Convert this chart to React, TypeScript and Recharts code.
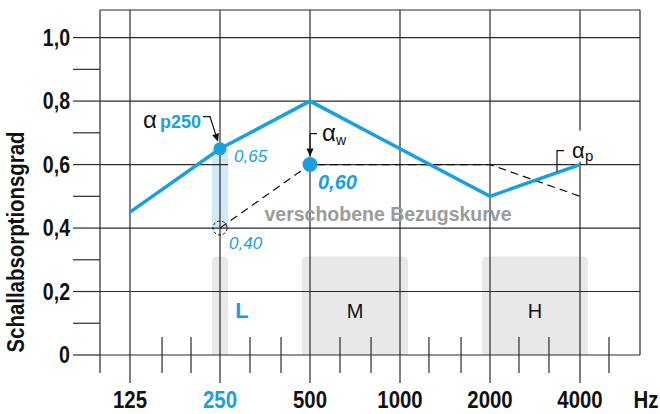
import React from 'react';
import { ComposedChart, Line, XAxis, YAxis, ReferenceLine, ReferenceArea, ReferenceDot } from 'recharts';

// octave bands (labelled) and the third-octave ticks between them
const bands = [125, 250, 500, 1000, 2000, 4000];
const bandLabels = ['125', '250', '500', '1000', '2000', '4000'];
const thirdOctaves = [160, 200, 315, 400, 630, 800, 1250, 1600, 2500, 3150, 5000];

// practical absorption coefficient αp per octave band
const measured = [0.45, 0.65, 0.8, 0.65, 0.5, 0.6];

// shifted reference curve
const refFreqs = [250, 500, 1000, 2000, 4000];
const shiftedRef = [0.4, 0.6, 0.6, 0.6, 0.5];

const yMajor = [0, 0.2, 0.4, 0.6, 0.8, 1.0];
const yTicks = [0, 0.1, 0.2, 0.3, 0.4, 0.5, 0.6, 0.7, 0.8, 0.9, 1.0];

// L / M / H ranges
const rangeNames = ['L', 'M', 'H'];
const rangeLo = [235, 470, 1880];
const rangeHi = [266, 1064, 4250];
const rangeLabelFreq = [250, 707, 2828];
const rangeTop = 0.31;

const alphaW = 0.6;
const p250 = 0.65;
const shifted250 = 0.4;

const xMin = 125 / Math.cbrt(2);
const xMax = 125 * Math.pow(2, 17 / 3);
const yMax = 1.087;

const BLUE = '#1a9fe0';
const GRID = '#2b2b2b';
const SANS = '"Liberation Sans", Arial, sans-serif';

const measData = bands.map((f, i) => ({ f, a: measured[i] }));
const refData = refFreqs.map((f, i) => ({ f, a: shiftedRef[i] }));
const fmt = (v: number) => v.toFixed(2).replace('.', ',');

// condensed bold text (no narrow font installed, so squeeze horizontally)
const Narrow = ({ x, y, anchor = 'middle', size = 24, fill = '#111', rotate = 0, children }: any) => (
  <text
    transform={`translate(${x},${y}) rotate(${rotate}) scale(0.85,1)`}
    textAnchor={anchor}
    fontFamily={SANS}
    fontWeight="bold"
    fontSize={size}
    fill={fill}
  >
    {children}
  </text>
);

const XTick = (props: any) => {
  const { x, y, payload } = props;
  const v = payload.value;
  const i = bands.indexOf(v);
  if (i >= 0) {
    return (
      <g>
        <line x1={x} x2={x} y1={y} y2={y + 28} stroke={GRID} strokeWidth={1.2} />
        <Narrow x={x} y={y + 53} fill={v === 250 ? BLUE : '#111'}>{bandLabels[i]}</Narrow>
      </g>
    );
  }
  if (v === xMin) return <line x1={x} x2={x} y1={y} y2={y + 18} stroke={GRID} strokeWidth={1.2} />;
  return <line x1={x} x2={x} y1={y - 18} y2={y + 18} stroke={GRID} strokeWidth={1.2} />;
};

const YTick = (props: any) => {
  const { x, y, payload } = props;
  const v = payload.value;
  if (!yMajor.includes(v)) return null;
  return (
    <Narrow x={x} y={y + 8} anchor="end" size={23}>
      {v === 0 ? '0' : v.toFixed(1).replace('.', ',')}
    </Narrow>
  );
};

const RangeShape = (props: any) => {
  const { x, y, width, height } = props;
  const r = 5;
  return (
    <path
      d={`M${x},${y + height} L${x},${y + r} Q${x},${y} ${x + r},${y} L${x + width - r},${y} Q${x + width},${y} ${x + width},${y + r} L${x + width},${y + height} Z`}
      fill="#e8e8e8"
    />
  );
};

const Arrow = ({ pts, tip }: { pts: number[][]; tip: number[] }) => {
  const last = pts[pts.length - 1];
  const dx = tip[0] - last[0];
  const dy = tip[1] - last[1];
  const len = Math.hypot(dx, dy);
  const ux = dx / len;
  const uy = dy / len;
  const bx = tip[0] - ux * 8;
  const by = tip[1] - uy * 8;
  return (
    <g>
      <polyline points={pts.map((p) => p.join(',')).join(' ') + ` ${bx},${by}`} fill="none" stroke="#111" strokeWidth={1.2} />
      <polygon points={`${tip[0]},${tip[1]} ${bx - uy * 3.5},${by + ux * 3.5} ${bx + uy * 3.5},${by - ux * 3.5}`} fill="#111" />
    </g>
  );
};

export default function App() {
  return (
    <div style={{ position: 'absolute', left: 0, top: 0, width: 660, height: 414, background: '#fff' }}>
      <ComposedChart width={660} height={414} margin={{ top: 10, right: 20, left: 0, bottom: 0 }}>
        <XAxis
          dataKey="f"
          type="number"
          scale="log"
          domain={[xMin, xMax]}
          allowDataOverflow
          ticks={[xMin, ...thirdOctaves, ...bands]}
          interval={0}
          height={59}
          tickSize={0}
          tickMargin={0}
          axisLine={false}
          tickLine={false}
          tick={<XTick />}
          label={(p: any) => (
            <Narrow x={p.viewBox.x + p.viewBox.width + 6} y={p.viewBox.y + 53}>Hz</Narrow>
          )}
        />
        <YAxis
          type="number"
          domain={[0, yMax]}
          allowDataOverflow
          ticks={yTicks}
          interval={0}
          width={100}
          tickSize={27}
          tickMargin={3}
          axisLine={{ stroke: GRID, strokeWidth: 1.2 }}
          tickLine={{ stroke: GRID, strokeWidth: 1.2 }}
          tick={<YTick />}
          label={(p: any) => (
            <Narrow x={p.viewBox.x + 24} y={p.viewBox.y + p.viewBox.height - 113} rotate={-90}>
              Schallabsorptionsgrad
            </Narrow>
          )}
        />

        {rangeNames.map((n, i) => (
          <ReferenceArea key={n} x1={rangeLo[i]} x2={rangeHi[i]} y1={0} y2={rangeTop} shape={<RangeShape />} />
        ))}
        <ReferenceArea x1={rangeLo[0]} x2={rangeHi[0]} y1={shifted250} y2={p250} fill="#d2e9f9" fillOpacity={1} stroke="none" />

        {yMajor.map((v) => (
          <ReferenceLine key={'h' + v} y={v} stroke={GRID} strokeWidth={1.2} />
        ))}
        <ReferenceLine y={yMax} stroke={GRID} strokeWidth={1.2} />
        {bands.map((f) => (
          <ReferenceLine key={'v' + f} x={f} stroke={GRID} strokeWidth={1.2} />
        ))}
        <ReferenceLine x={xMax} stroke={GRID} strokeWidth={1.2} />
        {/* break in the 0,6 grid line between the 250 bar and αw */}
        <ReferenceLine segment={[{ x: rangeHi[0], y: alphaW }, { x: 500, y: alphaW }]} stroke="#fff" strokeWidth={3} />

        {rangeNames.map((n, i) => (
          <ReferenceDot key={'rl' + n} x={rangeLabelFreq[i]} y={0.1} r={0}
            shape={(p: any) => (
              <text x={p.cx + (i === 0 ? 22 : 0)} y={p.cy - 5} textAnchor="middle" fontFamily={SANS}
                fontWeight={i === 0 ? 'bold' : 'normal'} fontSize={i === 0 ? 22 : 20} fill={i === 0 ? BLUE : '#111'}>{n}</text>
            )} />
        ))}

        <Line data={refData} dataKey="a" stroke="#111" strokeWidth={1.2} strokeDasharray="8 5" dot={false} isAnimationActive={false} />
        <Line data={measData} dataKey="a" stroke={BLUE} strokeWidth={3.5} dot={false} isAnimationActive={false} />

        <ReferenceDot x={250} y={shifted250} r={7} fill="none" stroke="#111" strokeWidth={1} strokeDasharray="3 2" />
        <ReferenceDot x={250} y={p250} r={6.5} fill={BLUE} stroke="none" />
        <ReferenceDot x={500} y={alphaW} r={7.5} fill={BLUE} stroke="none" />

        {/* value labels */}
        <ReferenceDot x={250} y={p250} r={0}
          shape={(p: any) => (
            <g>
              <text x={p.cx + 14} y={p.cy + 13} fontFamily={SANS} fontStyle="italic" fontSize={17} fill={BLUE}>{fmt(p250)}</text>
              <text x={p.cx - 77} y={p.cy - 21} fontFamily={SANS} fontSize={24} fill="#111">α</text>
              <text x={p.cx - 60} y={p.cy - 21} fontFamily={SANS} fontWeight="bold" fontSize={18} fill={BLUE}>p250</text>
              <Arrow pts={[[p.cx - 17, p.cy - 32], [p.cx - 10, p.cy - 32]]} tip={[p.cx - 2, p.cy - 7]} />
            </g>
          )} />
        <ReferenceDot x={250} y={shifted250} r={0}
          shape={(p: any) => (
            <text x={p.cx + 9} y={p.cy + 21} fontFamily={SANS} fontStyle="italic" fontSize={17} fill={BLUE}>{fmt(shifted250)}</text>
          )} />
        <ReferenceDot x={500} y={alphaW} r={0}
          shape={(p: any) => (
            <g>
              <text x={p.cx + 8} y={p.cy + 24} fontFamily={SANS} fontStyle="italic" fontWeight="bold" fontSize={20} fill={BLUE}>{fmt(alphaW)}</text>
              <text x={p.cx + 12} y={p.cy - 24} fontFamily={SANS} fontSize={24} fill="#111">α</text>
              <text x={p.cx + 26} y={p.cy - 20} fontFamily={SANS} fontSize={14} fill="#111">w</text>
              <Arrow pts={[[p.cx + 7, p.cy - 31], [p.cx, p.cy - 31], [p.cx, p.cy - 20]]} tip={[p.cx, p.cy - 8]} />
            </g>
          )} />
        <ReferenceDot x={1000} y={shifted250} r={0}
          shape={(p: any) => (
            <text x={p.cx - 12} y={p.cy - 7} textAnchor="middle" fontFamily={SANS} fontWeight="bold" fontSize={19.5} fill="#9b9b9b">
              verschobene Bezugskurve
            </text>
          )} />
        <ReferenceDot x={4000} y={measured[5]} r={0}
          shape={(p: any) => (
            <g>
              <rect x={p.cx - 32} y={p.cy - 34} width={50} height={31} fill="#fff" />
              <text x={p.cx - 8} y={p.cy - 7} fontFamily={SANS} fontSize={22} fill="#111">α</text>
              <text x={p.cx + 5} y={p.cy - 4} fontFamily={SANS} fontSize={15} fill="#111">p</text>
              <polyline points={`${p.cx - 16},${p.cy - 14} ${p.cx - 23},${p.cy - 14} ${p.cx - 23},${p.cy + 7}`} fill="none" stroke="#111" strokeWidth={1.2} />
            </g>
          )} />
      </ComposedChart>
    </div>
  );
}
